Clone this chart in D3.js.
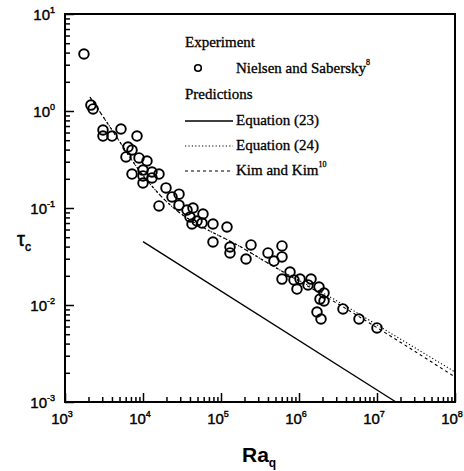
<!DOCTYPE html>
<html>
<head>
<meta charset="utf-8">
<script src="https://cdn.jsdelivr.net/npm/d3@7"></script>
<style>
  body { margin: 0; background: #fff; }
  svg { display: block; }
</style>
</head>
<body>
<script>
// Nielsen and Sabersky measurements (Ra_q, tau_c)
const expRa = [1750, 2150, 2290, 3070, 3070, 4010, 5220, 8380, 6420, 7230,
  6050, 8890, 11250, 7230, 10000, 10000, 10000, 13040, 16040, 13040,
  19720, 23550, 28960, 16040, 28960, 36650, 43750, 40070, 42500, 49230,
  58760, 57060, 78910, 119400, 78910, 130400, 130400, 242500, 209300, 400600,
  605300, 605300, 477600, 767000, 605300, 863000, 1030000, 942000, 1426000, 1304000,
  1805000, 2093000, 1858000, 2093000, 1701000, 1915000, 3664000, 5876000, 10000000];
const expTau = [3.87, 1.15, 1.05, 0.637, 0.552, 0.552, 0.652, 0.552, 0.425, 0.396,
  0.336, 0.328, 0.305, 0.224, 0.246, 0.214, 0.181, 0.235, 0.224, 0.204,
  0.161, 0.130, 0.139, 0.105, 0.107, 0.0953, 0.100, 0.0807, 0.0684, 0.0734,
  0.0867, 0.070, 0.0684, 0.0637, 0.0446, 0.0396, 0.0344, 0.0416, 0.0298, 0.0344,
  0.0406, 0.0313, 0.0284, 0.0219, 0.0185, 0.0181, 0.0185, 0.0146, 0.0185, 0.0161,
  0.0153, 0.0133, 0.0115, 0.0110, 0.00847, 0.00717, 0.0091, 0.00717, 0.0058];

// prediction curves
const eq23Ra = [1e4, 1.75e7];
const eq23Tau = [0.045, 0.001];
const eq24Ra = [2094, 3776, 10610, 16520, 209400, 464500, 2.9e6, 1.8e7, 1e8];
const eq24Tau = [1.39, 0.684, 0.204, 0.136, 0.0369, 0.0252, 0.0113, 0.00468, 0.00204];
const kimRa = [2094, 3776, 10610, 16520, 209400, 464500, 2.9e6, 1.8e7, 1e8];
const kimTau = [1.39, 0.684, 0.204, 0.136, 0.0369, 0.0252, 0.0107, 0.00435, 0.00181];

const xDecades = [3, 4, 5, 6, 7, 8];
const yDecades = [1, 0, -1, -2, -3];

const width = 464, height = 471;
const plot = { left: 65, right: 455, top: 14, bottom: 402 };

const svg = d3.select("body").append("svg")
  .attr("width", width)
  .attr("height", height);

const x = d3.scaleLog().domain([1e3, 1e8]).range([plot.left, plot.right]);
const y = d3.scaleLog().domain([1e-3, 1e1]).range([plot.bottom, plot.top]);

// tick values: decades plus 2..9 in between
function logTicks(lo, hi) {
  const t = [];
  for (let e = lo; e <= hi; e++) {
    for (let m = 1; m <= 9; m++) {
      if (e === hi && m > 1) break;
      t.push(m * Math.pow(10, e));
    }
  }
  return t;
}
const isMajor = (v) => Math.abs(Math.log10(v) - Math.round(Math.log10(v))) < 1e-9;

// bottom axis, ticks pointing inward
const xAxis = svg.append("g")
  .attr("class", "x-axis")
  .attr("transform", `translate(0, ${plot.bottom})`)
  .call(d3.axisBottom(x).tickValues(logTicks(3, 8)).tickSize(-5).tickFormat("").tickSizeOuter(0));
xAxis.selectAll(".tick line").filter((d) => isMajor(d)).attr("y2", -9);

const yAxis = svg.append("g")
  .attr("class", "y-axis")
  .attr("transform", `translate(${plot.left}, 0)`)
  .call(d3.axisLeft(y).tickValues(logTicks(-3, 1)).tickSize(-5).tickFormat("").tickSizeOuter(0));
yAxis.selectAll(".tick line").filter((d) => isMajor(d)).attr("x2", 9);

d3.selectAll(".x-axis line, .y-axis line").attr("stroke", "#000").attr("stroke-width", 1.5);
d3.selectAll(".x-axis path, .y-axis path").attr("stroke", "none");

// frame
svg.append("rect")
  .attr("x", plot.left)
  .attr("y", plot.top)
  .attr("width", plot.right - plot.left)
  .attr("height", plot.bottom - plot.top)
  .attr("fill", "none")
  .attr("stroke", "#000")
  .attr("stroke-width", 2);

// tick labels 10^n (slight stroke to mimic the heavy print)
const labelFont = "'Liberation Sans', Arial, sans-serif";
xDecades.forEach((e) => {
  const t = svg.append("text")
    .attr("x", x(Math.pow(10, e)) - 3)
    .attr("y", 424)
    .attr("text-anchor", "middle")
    .style("font-family", labelFont)
    .style("font-size", "15px")
    .attr("stroke", "#000")
    .attr("stroke-width", 0.4);
  t.append("tspan").text("10");
  t.append("tspan").attr("dy", -7).style("font-size", "9px").text(e);
});

yDecades.forEach((e) => {
  const t = svg.append("text")
    .attr("x", 55)
    .attr("y", y(Math.pow(10, e)) + 6)
    .attr("text-anchor", "end")
    .style("font-family", labelFont)
    .style("font-size", "15px")
    .attr("stroke", "#000")
    .attr("stroke-width", 0.4);
  t.append("tspan").text("10");
  t.append("tspan").attr("dy", -7).style("font-size", "9px").text(e);
});

// axis titles
const xt = svg.append("text")
  .attr("x", 242)
  .attr("y", 462)
  .style("font-family", labelFont)
  .style("font-size", "21px")
  .style("font-weight", "bold");
xt.append("tspan").text("Ra");
xt.append("tspan").attr("dy", 5).style("font-size", "12px").text("q");

const yt = svg.append("text")
  .attr("x", 17)
  .attr("y", 246)
  .style("font-family", labelFont)
  .style("font-size", "20px")
  .attr("stroke", "#000")
  .attr("stroke-width", 0.5);
yt.append("tspan").text("τ");
yt.append("tspan").attr("dy", 5).style("font-size", "12px").text("c");

// prediction lines
const line = d3.line()
  .x((d) => x(d[0]))
  .y((d) => y(d[1]))
  .curve(d3.curveMonotoneX);

const plotArea = svg.append("g");

plotArea.append("path")
  .datum(eq23Ra.map((r, i) => [r, eq23Tau[i]]))
  .attr("d", line)
  .attr("fill", "none")
  .attr("stroke", "#000")
  .attr("stroke-width", 1.4);

plotArea.append("path")
  .datum(eq24Ra.map((r, i) => [r, eq24Tau[i]]))
  .attr("d", line)
  .attr("fill", "none")
  .attr("stroke", "#000")
  .attr("stroke-width", 1.1)
  .attr("stroke-dasharray", "1.2 2.2");

plotArea.append("path")
  .datum(kimRa.map((r, i) => [r, kimTau[i]]))
  .attr("d", line)
  .attr("fill", "none")
  .attr("stroke", "#000")
  .attr("stroke-width", 1.1)
  .attr("stroke-dasharray", "3 3");

// experimental points
plotArea.selectAll(".pt")
  .data(expRa.map((r, i) => [r, expTau[i]]))
  .enter()
  .append("circle")
  .attr("class", "pt")
  .attr("cx", (d) => x(d[0]))
  .attr("cy", (d) => y(d[1]))
  .attr("r", 4.8)
  .attr("fill", "none")
  .attr("stroke", "#000")
  .attr("stroke-width", 1.9);

// legend
const serif = "'Liberation Serif', 'Times New Roman', serif";
const legend = svg.append("g")
  .style("font-family", serif)
  .style("font-size", "15px")
  .attr("stroke", "#000")
  .attr("stroke-width", 0.3);

legend.append("text").attr("x", 185).attr("y", 47).text("Experiment");
legend.append("circle")
  .attr("cx", 198).attr("cy", 68).attr("r", 3.3)
  .attr("fill", "none").attr("stroke", "#000").attr("stroke-width", 1.6);
const ns = legend.append("text").attr("x", 236).attr("y", 73);
ns.append("tspan").text("Nielsen and Sabersky");
ns.append("tspan").attr("dy", -8).style("font-size", "8px").text("8");

legend.append("text").attr("x", 185).attr("y", 99).text("Predictions");

const items = [
  { label: "Equation (23)", dash: null, y: 125 },
  { label: "Equation (24)", dash: "1.2 2.2", y: 150 },
  { label: "Kim and Kim", dash: "3 3", y: 175, sup: "10" },
];
items.forEach((d) => {
  legend.append("line")
    .attr("x1", 185).attr("x2", 233)
    .attr("y1", d.y - 4).attr("y2", d.y - 4)
    .attr("stroke", "#000")
    .attr("stroke-width", d.dash ? 1.1 : 1.4)
    .attr("stroke-dasharray", d.dash);
  const t = legend.append("text").attr("x", 236).attr("y", d.y);
  t.append("tspan").text(d.label);
  if (d.sup) t.append("tspan").attr("dy", -8).style("font-size", "8px").text(d.sup);
});
</script>
</body>
</html>
